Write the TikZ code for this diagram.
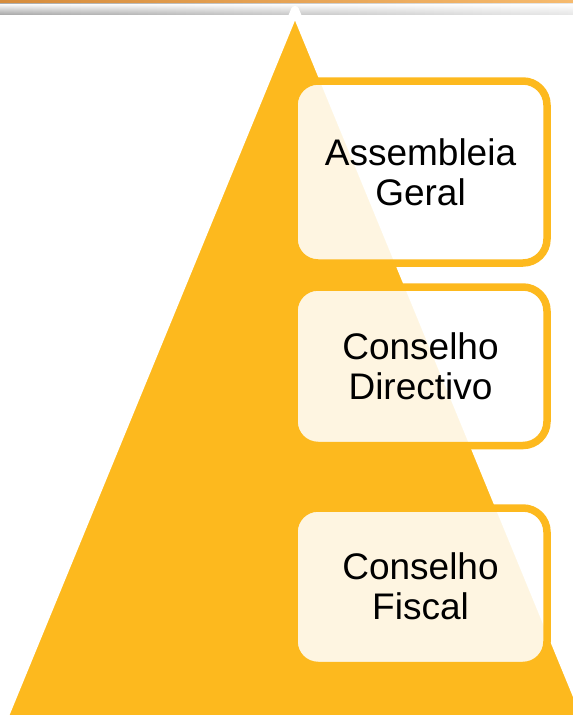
\documentclass[tikz,border=0pt]{standalone}
\usepackage{fontspec}
\setmainfont{Liberation Sans}
\usetikzlibrary{fadings}
\definecolor{pyr}{RGB}{253,185,30}
\definecolor{hdrA}{RGB}{214,140,60}
\definecolor{hdrB}{RGB}{246,186,110}
\begin{document}
\begin{tikzpicture}[x=1pt,y=-1pt]

\def\bw{253pt}
\tikzstyle{tier} = [
	draw=pyr, line width=7.5pt, fill=white, fill opacity=.87, text opacity=1,
	rounded corners=24pt, inner sep=0pt, align=center,
	minimum width=\bw, font=\fontsize{37}{40}\selectfont ];
\useasboundingbox (0,0) rectangle (573,715);
\clip (0,0) rectangle (573,715);

\shade[left color=hdrA, right color=hdrB] (0,0) rectangle (573,3.5);
\shade[left color=gray!65, right color=gray!18] (0,3.5) rectangle (573,14);
\fill[white, path fading=south] (0,3.5) rectangle (573,14);

\draw[white, fill=pyr, line width=8pt, line join=round]
	(295,10) -- (595,740) -- (-5,740) -- cycle;

\node[tier, minimum height=182pt] (ag) at (420.5,172) {Assembleia\\Geral};
\node[tier, minimum height=158.5pt] (cd) at (420.5,366.25) {Conselho\\Directivo};
\node[tier, minimum height=157.5pt] (cf) at (420.5,586.75) {Conselho\\Fiscal};

\end{tikzpicture}
\end{document}
